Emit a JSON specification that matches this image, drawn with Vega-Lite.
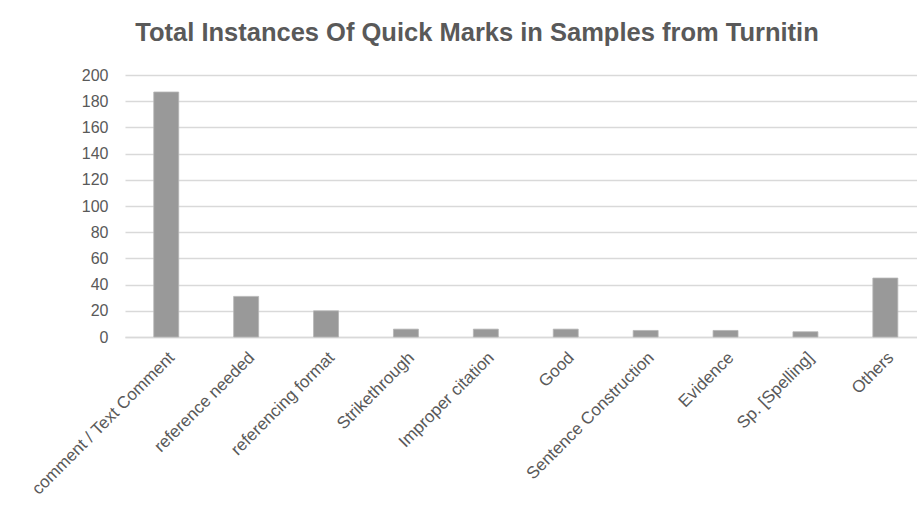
{
  "$schema": "https://vega.github.io/schema/vega-lite/v6.json",
  "autosize": "none",
  "width": 792,
  "height": 262,
  "padding": {"left": 125, "top": 75, "right": 0, "bottom": 180},
  "background": "white",
  "title": {
    "text": "Total Instances Of Quick Marks in Samples from Turnitin",
    "font": "Liberation Sans",
    "fontSize": 25.5,
    "fontWeight": "bold",
    "color": "#595959",
    "anchor": "middle",
    "frame": "group",
    "dx": -44,
    "offset": 21
  },
  "data": {
    "values": [
      {"mark": "comment / Text Comment", "count": 187},
      {"mark": "reference needed", "count": 31},
      {"mark": "referencing format", "count": 20},
      {"mark": "Strikethrough", "count": 6},
      {"mark": "Improper citation", "count": 6},
      {"mark": "Good", "count": 6},
      {"mark": "Sentence Construction", "count": 5},
      {"mark": "Evidence", "count": 5},
      {"mark": "Sp. [Spelling]", "count": 4},
      {"mark": "Others", "count": 45}
    ]
  },
  "mark": {"type": "bar", "color": "#999999", "stroke": "#b5b5b5", "strokeWidth": 0.8},
  "encoding": {
    "x": {
      "field": "mark",
      "type": "nominal",
      "sort": null,
      "title": null,
      "scale": {"paddingInner": 0.6875, "paddingOuter": 0.3, "align": 0.6},
      "axis": {
        "labelAngle": -45,
        "labelFont": "Liberation Sans",
        "labelFontSize": 17,
        "labelColor": "#595959",
        "labelLimit": 400,
        "ticks": false,
        "domainColor": "#d9d9d9",
        "domainWidth": 1.5,
        "labelPadding": 12
      }
    },
    "y": {
      "field": "count",
      "type": "quantitative",
      "title": null,
      "scale": {"domain": [0, 200]},
      "axis": {
        "values": [0, 20, 40, 60, 80, 100, 120, 140, 160, 180, 200],
        "labelFont": "Liberation Sans",
        "labelFontSize": 16,
        "labelColor": "#595959",
        "ticks": false,
        "domain": false,
        "gridColor": "#d9d9d9",
        "gridWidth": 1.5,
        "labelPadding": 17
      }
    }
  },
  "config": {"view": {"stroke": null}}
}
